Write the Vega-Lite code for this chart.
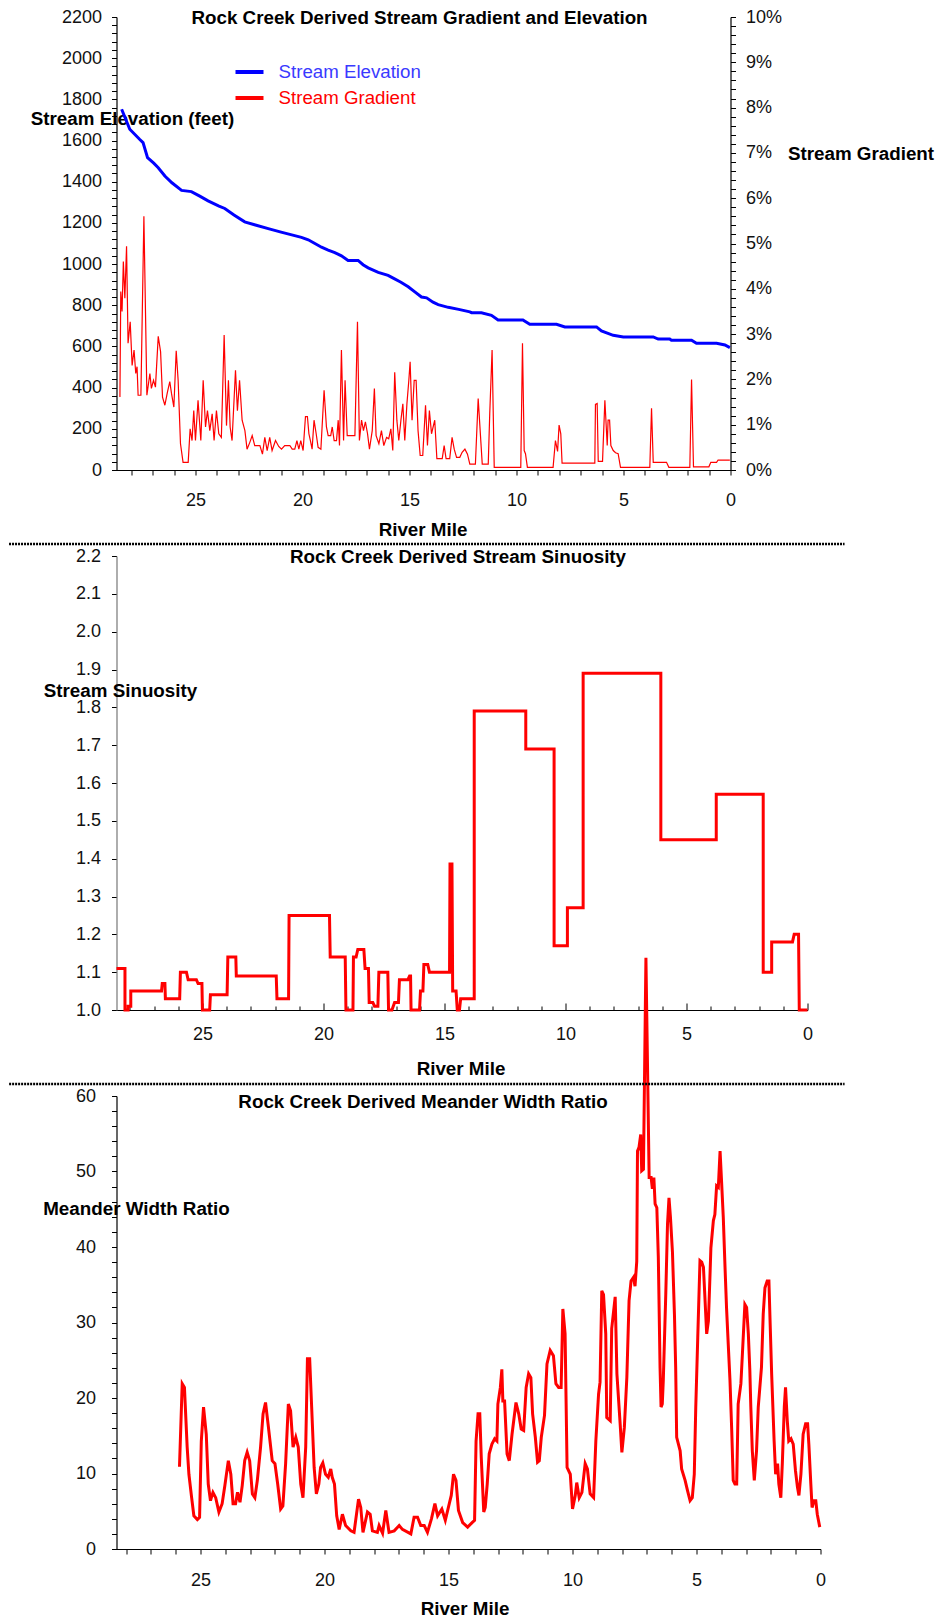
{
  "$schema": "https://vega.github.io/schema/vega-lite/v6.json",
  "padding": {"left": 7.5, "top": 8, "right": 5, "bottom": 3},
  "background": "white",
  "datasets": {
    "elev": [
      {"mile":28.45,"elev":1752},{"mile":28.07,"elev":1655},{"mile":27.6,"elev":1605},{"mile":27.45,"elev":1590},{"mile":27.24,"elev":1517},{"mile":26.95,"elev":1490},{"mile":26.74,"elev":1468},{"mile":26.43,"elev":1428},{"mile":26.1,"elev":1395},{"mile":25.65,"elev":1358},{"mile":25.19,"elev":1352},{"mile":24.8,"elev":1330},{"mile":24.41,"elev":1307},{"mile":23.9,"elev":1282},{"mile":23.63,"elev":1270},{"mile":23.2,"elev":1238},{"mile":22.7,"elev":1205},{"mile":22.2,"elev":1190},{"mile":21.6,"elev":1172},{"mile":21.0,"elev":1155},{"mile":20.5,"elev":1142},{"mile":20.05,"elev":1130},{"mile":19.73,"elev":1118},{"mile":19.42,"elev":1100},{"mile":19.11,"elev":1082},{"mile":18.8,"elev":1068},{"mile":18.49,"elev":1056},{"mile":18.18,"elev":1040},{"mile":17.87,"elev":1018},{"mile":17.4,"elev":1018},{"mile":17.17,"elev":997},{"mile":16.93,"elev":982},{"mile":16.46,"elev":960},{"mile":16.0,"elev":945},{"mile":15.76,"elev":932},{"mile":15.4,"elev":912},{"mile":15.06,"elev":890},{"mile":14.75,"elev":865},{"mile":14.44,"elev":840},{"mile":14.2,"elev":836},{"mile":13.9,"elev":815},{"mile":13.66,"elev":803},{"mile":13.19,"elev":790},{"mile":12.7,"elev":780},{"mile":12.18,"elev":768},{"mile":12.1,"elev":764},{"mile":11.64,"elev":764},{"mile":11.17,"elev":751},{"mile":10.86,"elev":729},{"mile":9.7,"elev":729},{"mile":9.38,"elev":708},{"mile":8.13,"elev":708},{"mile":7.74,"elev":695},{"mile":6.26,"elev":695},{"mile":6.03,"elev":675},{"mile":5.48,"elev":654},{"mile":5.01,"elev":646},{"mile":3.61,"elev":646},{"mile":3.38,"elev":636},{"mile":2.84,"elev":636},{"mile":2.76,"elev":630},{"mile":1.82,"elev":630},{"mile":1.59,"elev":615},{"mile":0.65,"elev":615},{"mile":0.26,"elev":607},{"mile":0.03,"elev":594}
    ],
    "grad": [
      {"mile":28.53,"pct":1.61},{"mile":28.49,"pct":3.94},{"mile":28.43,"pct":3.5},{"mile":28.37,"pct":4.6},{"mile":28.3,"pct":3.79},{"mile":28.22,"pct":4.94},{"mile":28.15,"pct":2.8},{"mile":28.05,"pct":3.27},{"mile":27.96,"pct":2.31},{"mile":27.87,"pct":2.65},{"mile":27.79,"pct":2.13},{"mile":27.73,"pct":2.28},{"mile":27.68,"pct":1.65},{"mile":27.55,"pct":1.65},{"mile":27.41,"pct":5.6},{"mile":27.27,"pct":1.65},{"mile":27.13,"pct":2.13},{"mile":27.06,"pct":1.8},{"mile":26.96,"pct":1.98},{"mile":26.87,"pct":1.83},{"mile":26.74,"pct":2.95},{"mile":26.63,"pct":2.61},{"mile":26.54,"pct":1.61},{"mile":26.43,"pct":1.43},{"mile":26.31,"pct":1.72},{"mile":26.2,"pct":1.95},{"mile":26.12,"pct":1.69},{"mile":26.01,"pct":1.39},{"mile":25.9,"pct":2.63},{"mile":25.81,"pct":1.98},{"mile":25.7,"pct":0.58},{"mile":25.58,"pct":0.17},{"mile":25.34,"pct":0.17},{"mile":25.25,"pct":0.91},{"mile":25.16,"pct":0.65},{"mile":25.08,"pct":1.31},{"mile":25.0,"pct":0.65},{"mile":24.88,"pct":1.54},{"mile":24.75,"pct":0.65},{"mile":24.64,"pct":1.98},{"mile":24.53,"pct":0.95},{"mile":24.44,"pct":1.31},{"mile":24.33,"pct":0.87},{"mile":24.22,"pct":1.24},{"mile":24.13,"pct":0.65},{"mile":24.02,"pct":1.31},{"mile":23.91,"pct":0.8},{"mile":23.79,"pct":0.72},{"mile":23.66,"pct":2.98},{"mile":23.55,"pct":0.98},{"mile":23.46,"pct":1.98},{"mile":23.38,"pct":0.95},{"mile":23.29,"pct":0.65},{"mile":23.13,"pct":2.2},{"mile":23.04,"pct":1.31},{"mile":22.94,"pct":1.98},{"mile":22.82,"pct":1.1},{"mile":22.69,"pct":0.87},{"mile":22.59,"pct":0.46},{"mile":22.46,"pct":0.61},{"mile":22.35,"pct":0.76},{"mile":22.23,"pct":0.54},{"mile":21.99,"pct":0.54},{"mile":21.87,"pct":0.35},{"mile":21.76,"pct":0.72},{"mile":21.65,"pct":0.43},{"mile":21.53,"pct":0.72},{"mile":21.42,"pct":0.43},{"mile":21.26,"pct":0.65},{"mile":21.11,"pct":0.52},{"mile":20.98,"pct":0.46},{"mile":20.83,"pct":0.54},{"mile":20.59,"pct":0.54},{"mile":20.48,"pct":0.46},{"mile":20.36,"pct":0.46},{"mile":20.26,"pct":0.65},{"mile":20.17,"pct":0.46},{"mile":20.08,"pct":0.65},{"mile":19.97,"pct":0.43},{"mile":19.86,"pct":1.18},{"mile":19.77,"pct":1.18},{"mile":19.7,"pct":0.8},{"mile":19.63,"pct":0.65},{"mile":19.55,"pct":0.46},{"mile":19.46,"pct":1.1},{"mile":19.36,"pct":0.8},{"mile":19.27,"pct":0.5},{"mile":19.14,"pct":0.46},{"mile":18.99,"pct":1.76},{"mile":18.88,"pct":0.95},{"mile":18.8,"pct":0.76},{"mile":18.68,"pct":0.76},{"mile":18.61,"pct":0.95},{"mile":18.52,"pct":0.65},{"mile":18.41,"pct":0.65},{"mile":18.33,"pct":1.1},{"mile":18.27,"pct":0.54},{"mile":18.18,"pct":2.65},{"mile":18.08,"pct":0.65},{"mile":18.01,"pct":1.98},{"mile":17.91,"pct":0.76},{"mile":17.55,"pct":0.76},{"mile":17.43,"pct":3.27},{"mile":17.34,"pct":0.65},{"mile":17.24,"pct":1.1},{"mile":17.15,"pct":0.87},{"mile":17.06,"pct":1.06},{"mile":16.96,"pct":0.8},{"mile":16.87,"pct":0.46},{"mile":16.74,"pct":0.87},{"mile":16.64,"pct":1.8},{"mile":16.56,"pct":0.76},{"mile":16.43,"pct":0.58},{"mile":16.31,"pct":0.87},{"mile":16.2,"pct":0.54},{"mile":16.07,"pct":0.72},{"mile":15.97,"pct":0.69},{"mile":15.87,"pct":0.91},{"mile":15.78,"pct":0.43},{"mile":15.69,"pct":2.16},{"mile":15.59,"pct":1.1},{"mile":15.5,"pct":0.65},{"mile":15.4,"pct":1.1},{"mile":15.31,"pct":1.46},{"mile":15.22,"pct":0.65},{"mile":15.12,"pct":1.46},{"mile":15.03,"pct":1.98},{"mile":14.97,"pct":2.39},{"mile":14.88,"pct":1.1},{"mile":14.78,"pct":1.98},{"mile":14.69,"pct":1.98},{"mile":14.6,"pct":0.87},{"mile":14.5,"pct":0.32},{"mile":14.38,"pct":0.32},{"mile":14.25,"pct":1.43},{"mile":14.16,"pct":0.54},{"mile":14.07,"pct":1.31},{"mile":13.97,"pct":0.8},{"mile":13.82,"pct":1.1},{"mile":13.72,"pct":0.25},{"mile":13.47,"pct":0.25},{"mile":13.38,"pct":0.54},{"mile":13.29,"pct":0.25},{"mile":13.12,"pct":0.25},{"mile":13.01,"pct":0.72},{"mile":12.91,"pct":0.46},{"mile":12.8,"pct":0.28},{"mile":12.65,"pct":0.28},{"mile":12.54,"pct":0.39},{"mile":12.41,"pct":0.46},{"mile":12.29,"pct":0.35},{"mile":12.18,"pct":0.13},{"mile":11.92,"pct":0.13},{"mile":11.79,"pct":1.58},{"mile":11.6,"pct":0.13},{"mile":11.32,"pct":0.13},{"mile":11.25,"pct":1.24},{"mile":11.14,"pct":2.65},{"mile":11.04,"pct":0.06},{"mile":9.8,"pct":0.06},{"mile":9.72,"pct":2.8},{"mile":9.64,"pct":0.43},{"mile":9.58,"pct":0.36},{"mile":9.49,"pct":0.06},{"mile":8.29,"pct":0.06},{"mile":8.18,"pct":0.65},{"mile":8.08,"pct":0.41},{"mile":8.01,"pct":0.99},{"mile":7.93,"pct":0.8},{"mile":7.87,"pct":0.15},{"mile":6.34,"pct":0.15},{"mile":6.31,"pct":1.45},{"mile":6.23,"pct":1.47},{"mile":6.18,"pct":0.19},{"mile":5.98,"pct":0.19},{"mile":5.87,"pct":1.54},{"mile":5.76,"pct":0.54},{"mile":5.72,"pct":1.1},{"mile":5.65,"pct":1.1},{"mile":5.59,"pct":0.54},{"mile":5.48,"pct":0.43},{"mile":5.37,"pct":0.38},{"mile":5.25,"pct":0.36},{"mile":5.14,"pct":0.06},{"mile":3.77,"pct":0.06},{"mile":3.69,"pct":1.36},{"mile":3.61,"pct":0.17},{"mile":2.99,"pct":0.17},{"mile":2.88,"pct":0.06},{"mile":1.9,"pct":0.06},{"mile":1.82,"pct":2.0},{"mile":1.73,"pct":0.07},{"mile":1.01,"pct":0.07},{"mile":0.92,"pct":0.17},{"mile":0.65,"pct":0.17},{"mile":0.58,"pct":0.22},{"mile":0.03,"pct":0.22}
    ],
    "sin": [
      {"i":0,"mile":28.55,"sin":1.11},{"i":1,"mile":28.2,"sin":1.11},{"i":2,"mile":28.2,"sin":1.0},{"i":3,"mile":28.07,"sin":1.0},{"i":4,"mile":28.07,"sin":1.01},{"i":5,"mile":27.96,"sin":1.01},{"i":6,"mile":27.96,"sin":1.05},{"i":7,"mile":26.69,"sin":1.05},{"i":8,"mile":26.66,"sin":1.07},{"i":9,"mile":26.55,"sin":1.07},{"i":10,"mile":26.53,"sin":1.03},{"i":11,"mile":25.94,"sin":1.03},{"i":12,"mile":25.91,"sin":1.1},{"i":13,"mile":25.66,"sin":1.1},{"i":14,"mile":25.59,"sin":1.08},{"i":15,"mile":25.25,"sin":1.08},{"i":16,"mile":25.18,"sin":1.07},{"i":17,"mile":25.02,"sin":1.07},{"i":18,"mile":25.0,"sin":1.0},{"i":19,"mile":24.7,"sin":1.0},{"i":20,"mile":24.67,"sin":1.04},{"i":21,"mile":23.98,"sin":1.04},{"i":22,"mile":23.95,"sin":1.14},{"i":23,"mile":23.62,"sin":1.14},{"i":24,"mile":23.6,"sin":1.09},{"i":25,"mile":21.95,"sin":1.09},{"i":26,"mile":21.92,"sin":1.03},{"i":27,"mile":21.44,"sin":1.03},{"i":28,"mile":21.42,"sin":1.25},{"i":29,"mile":19.75,"sin":1.25},{"i":30,"mile":19.72,"sin":1.14},{"i":31,"mile":19.1,"sin":1.14},{"i":32,"mile":19.07,"sin":1.0},{"i":33,"mile":18.78,"sin":1.0},{"i":34,"mile":18.76,"sin":1.14},{"i":35,"mile":18.65,"sin":1.14},{"i":36,"mile":18.58,"sin":1.16},{"i":37,"mile":18.33,"sin":1.16},{"i":38,"mile":18.28,"sin":1.11},{"i":39,"mile":18.14,"sin":1.11},{"i":40,"mile":18.11,"sin":1.02},{"i":41,"mile":17.96,"sin":1.02},{"i":42,"mile":17.89,"sin":1.01},{"i":43,"mile":17.75,"sin":1.01},{"i":44,"mile":17.71,"sin":1.1},{"i":45,"mile":17.34,"sin":1.1},{"i":46,"mile":17.31,"sin":1.0},{"i":47,"mile":17.17,"sin":1.0},{"i":48,"mile":17.06,"sin":1.02},{"i":49,"mile":16.9,"sin":1.02},{"i":50,"mile":16.86,"sin":1.08},{"i":51,"mile":16.51,"sin":1.08},{"i":52,"mile":16.44,"sin":1.09},{"i":53,"mile":16.4,"sin":1.09},{"i":54,"mile":16.38,"sin":1.0},{"i":55,"mile":16.03,"sin":1.0},{"i":56,"mile":15.99,"sin":1.05},{"i":57,"mile":15.89,"sin":1.05},{"i":58,"mile":15.85,"sin":1.12},{"i":59,"mile":15.69,"sin":1.12},{"i":60,"mile":15.62,"sin":1.1},{"i":61,"mile":14.79,"sin":1.1},{"i":62,"mile":14.77,"sin":1.39},{"i":63,"mile":14.75,"sin":1.1},{"i":64,"mile":14.73,"sin":1.39},{"i":65,"mile":14.71,"sin":1.1},{"i":66,"mile":14.69,"sin":1.39},{"i":67,"mile":14.66,"sin":1.05},{"i":68,"mile":14.52,"sin":1.05},{"i":69,"mile":14.47,"sin":1.0},{"i":70,"mile":14.38,"sin":1.0},{"i":71,"mile":14.33,"sin":1.03},{"i":72,"mile":13.77,"sin":1.03},{"i":73,"mile":13.77,"sin":1.79},{"i":74,"mile":11.64,"sin":1.79},{"i":75,"mile":11.64,"sin":1.69},{"i":76,"mile":10.47,"sin":1.69},{"i":77,"mile":10.47,"sin":1.17},{"i":78,"mile":9.92,"sin":1.17},{"i":79,"mile":9.92,"sin":1.27},{"i":80,"mile":9.27,"sin":1.27},{"i":81,"mile":9.27,"sin":1.89},{"i":82,"mile":6.06,"sin":1.89},{"i":83,"mile":6.06,"sin":1.45},{"i":84,"mile":3.77,"sin":1.45},{"i":85,"mile":3.77,"sin":1.57},{"i":86,"mile":1.83,"sin":1.57},{"i":87,"mile":1.83,"sin":1.1},{"i":88,"mile":1.48,"sin":1.1},{"i":89,"mile":1.48,"sin":1.18},{"i":90,"mile":0.62,"sin":1.18},{"i":91,"mile":0.55,"sin":1.2},{"i":92,"mile":0.37,"sin":1.2},{"i":93,"mile":0.34,"sin":1.0},{"i":94,"mile":0.0,"sin":1.0}
    ],
    "mwr": [
      {"mile":25.85,"mwr":10.9},{"mile":25.74,"mwr":21.9},{"mile":25.65,"mwr":21.4},{"mile":25.54,"mwr":13.5},{"mile":25.47,"mwr":9.9},{"mile":25.36,"mwr":6.8},{"mile":25.27,"mwr":4.4},{"mile":25.13,"mwr":3.9},{"mile":25.04,"mwr":4.2},{"mile":24.97,"mwr":14.3},{"mile":24.88,"mwr":18.8},{"mile":24.77,"mwr":15.2},{"mile":24.69,"mwr":8.6},{"mile":24.6,"mwr":6.4},{"mile":24.5,"mwr":7.5},{"mile":24.39,"mwr":6.8},{"mile":24.26,"mwr":4.9},{"mile":24.13,"mwr":6.0},{"mile":24.02,"mwr":8.4},{"mile":23.88,"mwr":11.7},{"mile":23.78,"mwr":9.9},{"mile":23.69,"mwr":6.0},{"mile":23.59,"mwr":6.0},{"mile":23.51,"mwr":7.5},{"mile":23.41,"mwr":6.2},{"mile":23.32,"mwr":8.4},{"mile":23.22,"mwr":11.7},{"mile":23.12,"mwr":12.8},{"mile":23.02,"mwr":11.7},{"mile":22.91,"mwr":7.3},{"mile":22.81,"mwr":6.8},{"mile":22.71,"mwr":9.1},{"mile":22.58,"mwr":13.5},{"mile":22.48,"mwr":17.9},{"mile":22.38,"mwr":19.4},{"mile":22.28,"mwr":16.6},{"mile":22.2,"mwr":14.3},{"mile":22.11,"mwr":11.7},{"mile":22.0,"mwr":11.3},{"mile":21.89,"mwr":8.6},{"mile":21.77,"mwr":5.3},{"mile":21.68,"mwr":5.7},{"mile":21.57,"mwr":11.3},{"mile":21.46,"mwr":19.2},{"mile":21.37,"mwr":18.3},{"mile":21.27,"mwr":13.5},{"mile":21.16,"mwr":14.8},{"mile":21.06,"mwr":13.5},{"mile":20.96,"mwr":8.6},{"mile":20.87,"mwr":6.8},{"mile":20.76,"mwr":13.5},{"mile":20.69,"mwr":25.2},{"mile":20.6,"mwr":25.2},{"mile":20.52,"mwr":18.8},{"mile":20.42,"mwr":10.8},{"mile":20.33,"mwr":7.3},{"mile":20.23,"mwr":8.6},{"mile":20.16,"mwr":10.8},{"mile":20.07,"mwr":11.4},{"mile":19.96,"mwr":9.9},{"mile":19.85,"mwr":9.5},{"mile":19.75,"mwr":10.6},{"mile":19.69,"mwr":9.5},{"mile":19.6,"mwr":8.6},{"mile":19.51,"mwr":4.4},{"mile":19.41,"mwr":2.6},{"mile":19.28,"mwr":4.6},{"mile":19.15,"mwr":3.1},{"mile":18.94,"mwr":2.4},{"mile":18.81,"mwr":2.2},{"mile":18.63,"mwr":6.6},{"mile":18.54,"mwr":5.5},{"mile":18.45,"mwr":2.2},{"mile":18.27,"mwr":4.9},{"mile":18.16,"mwr":4.6},{"mile":18.07,"mwr":2.4},{"mile":17.87,"mwr":2.2},{"mile":17.8,"mwr":3.1},{"mile":17.66,"mwr":2.1},{"mile":17.53,"mwr":5.1},{"mile":17.4,"mwr":2.2},{"mile":17.19,"mwr":2.4},{"mile":16.99,"mwr":3.1},{"mile":16.86,"mwr":2.6},{"mile":16.52,"mwr":2.0},{"mile":16.39,"mwr":4.2},{"mile":16.25,"mwr":4.2},{"mile":16.12,"mwr":3.1},{"mile":15.98,"mwr":3.1},{"mile":15.85,"mwr":2.2},{"mile":15.69,"mwr":4.0},{"mile":15.55,"mwr":6.0},{"mile":15.44,"mwr":4.4},{"mile":15.27,"mwr":5.3},{"mile":15.13,"mwr":3.8},{"mile":14.97,"mwr":6.0},{"mile":14.89,"mwr":7.1},{"mile":14.8,"mwr":9.9},{"mile":14.7,"mwr":9.1},{"mile":14.6,"mwr":5.1},{"mile":14.43,"mwr":3.5},{"mile":14.23,"mwr":2.9},{"mile":14.05,"mwr":3.5},{"mile":13.95,"mwr":3.8},{"mile":13.89,"mwr":14.3},{"mile":13.81,"mwr":17.9},{"mile":13.74,"mwr":17.9},{"mile":13.68,"mwr":12.1},{"mile":13.58,"mwr":4.9},{"mile":13.52,"mwr":5.5},{"mile":13.44,"mwr":8.6},{"mile":13.36,"mwr":12.6},{"mile":13.25,"mwr":13.9},{"mile":13.14,"mwr":14.6},{"mile":13.05,"mwr":14.3},{"mile":13.01,"mwr":19.2},{"mile":12.91,"mwr":21.4},{"mile":12.85,"mwr":23.8},{"mile":12.81,"mwr":19.6},{"mile":12.74,"mwr":19.6},{"mile":12.64,"mwr":12.6},{"mile":12.55,"mwr":11.7},{"mile":12.44,"mwr":15.2},{"mile":12.28,"mwr":19.4},{"mile":12.17,"mwr":17.9},{"mile":12.07,"mwr":15.9},{"mile":11.97,"mwr":15.7},{"mile":11.87,"mwr":21.4},{"mile":11.77,"mwr":23.2},{"mile":11.68,"mwr":22.7},{"mile":11.61,"mwr":17.9},{"mile":11.5,"mwr":14.8},{"mile":11.41,"mwr":11.5},{"mile":11.34,"mwr":11.7},{"mile":11.26,"mwr":14.8},{"mile":11.13,"mwr":17.7},{"mile":11.03,"mwr":24.5},{"mile":10.9,"mwr":26.3},{"mile":10.77,"mwr":25.6},{"mile":10.67,"mwr":21.9},{"mile":10.56,"mwr":21.4},{"mile":10.46,"mwr":21.4},{"mile":10.39,"mwr":31.8},{"mile":10.3,"mwr":28.5},{"mile":10.22,"mwr":10.8},{"mile":10.09,"mwr":9.9},{"mile":10.0,"mwr":5.3},{"mile":9.89,"mwr":7.1},{"mile":9.83,"mwr":8.8},{"mile":9.73,"mwr":6.8},{"mile":9.62,"mwr":7.5},{"mile":9.49,"mwr":11.3},{"mile":9.4,"mwr":10.6},{"mile":9.29,"mwr":7.3},{"mile":9.15,"mwr":6.8},{"mile":9.06,"mwr":14.3},{"mile":8.95,"mwr":20.5},{"mile":8.89,"mwr":22.1},{"mile":8.82,"mwr":34.2},{"mile":8.75,"mwr":33.7},{"mile":8.66,"mwr":28.5},{"mile":8.62,"mwr":17.4},{"mile":8.48,"mwr":17.0},{"mile":8.42,"mwr":29.2},{"mile":8.28,"mwr":33.4},{"mile":8.21,"mwr":23.2},{"mile":8.08,"mwr":16.6},{"mile":8.01,"mwr":12.8},{"mile":7.91,"mwr":16.1},{"mile":7.81,"mwr":22.7},{"mile":7.72,"mwr":32.9},{"mile":7.64,"mwr":35.5},{"mile":7.54,"mwr":36.0},{"mile":7.48,"mwr":34.8},{"mile":7.41,"mwr":38.1},{"mile":7.38,"mwr":52.7},{"mile":7.32,"mwr":53.2},{"mile":7.25,"mwr":54.9},{"mile":7.21,"mwr":50.1},{"mile":7.14,"mwr":50.3},{"mile":7.04,"mwr":78.3},{"mile":6.91,"mwr":49.2},{"mile":6.83,"mwr":49.2},{"mile":6.78,"mwr":47.7},{"mile":6.72,"mwr":49.2},{"mile":6.67,"mwr":45.7},{"mile":6.6,"mwr":45.2},{"mile":6.54,"mwr":38.6},{"mile":6.47,"mwr":24.0},{"mile":6.43,"mwr":18.8},{"mile":6.38,"mwr":19.2},{"mile":6.34,"mwr":22.3},{"mile":6.24,"mwr":33.7},{"mile":6.17,"mwr":43.0},{"mile":6.11,"mwr":46.5},{"mile":6.05,"mwr":43.9},{"mile":5.97,"mwr":39.3},{"mile":5.89,"mwr":31.1},{"mile":5.84,"mwr":24.0},{"mile":5.8,"mwr":14.8},{"mile":5.66,"mwr":13.0},{"mile":5.6,"mwr":10.6},{"mile":5.46,"mwr":9.1},{"mile":5.36,"mwr":7.7},{"mile":5.26,"mwr":6.4},{"mile":5.17,"mwr":6.8},{"mile":5.09,"mwr":9.9},{"mile":5.03,"mwr":18.8},{"mile":4.95,"mwr":28.0},{"mile":4.86,"mwr":38.2},{"mile":4.79,"mwr":38.0},{"mile":4.72,"mwr":37.3},{"mile":4.59,"mwr":28.5},{"mile":4.52,"mwr":30.2},{"mile":4.46,"mwr":35.9},{"mile":4.42,"mwr":39.9},{"mile":4.32,"mwr":43.5},{"mile":4.26,"mwr":44.3},{"mile":4.19,"mwr":48.1},{"mile":4.12,"mwr":47.9},{"mile":4.05,"mwr":52.7},{"mile":3.99,"mwr":48.7},{"mile":3.92,"mwr":43.9},{"mile":3.85,"mwr":37.3},{"mile":3.79,"mwr":32.0},{"mile":3.72,"mwr":27.1},{"mile":3.65,"mwr":22.3},{"mile":3.58,"mwr":15.7},{"mile":3.52,"mwr":9.1},{"mile":3.45,"mwr":8.6},{"mile":3.38,"mwr":8.6},{"mile":3.32,"mwr":19.2},{"mile":3.21,"mwr":21.9},{"mile":3.15,"mwr":25.8},{"mile":3.05,"mwr":32.4},{"mile":2.98,"mwr":32.0},{"mile":2.91,"mwr":28.5},{"mile":2.85,"mwr":23.7},{"mile":2.81,"mwr":18.8},{"mile":2.75,"mwr":13.0},{"mile":2.67,"mwr":9.1},{"mile":2.58,"mwr":13.0},{"mile":2.51,"mwr":18.8},{"mile":2.38,"mwr":24.1},{"mile":2.31,"mwr":31.1},{"mile":2.24,"mwr":34.6},{"mile":2.15,"mwr":35.5},{"mile":2.08,"mwr":35.5},{"mile":2.03,"mwr":29.8},{"mile":1.97,"mwr":23.2},{"mile":1.87,"mwr":14.3},{"mile":1.81,"mwr":9.9},{"mile":1.73,"mwr":11.3},{"mile":1.68,"mwr":8.6},{"mile":1.6,"mwr":6.8},{"mile":1.54,"mwr":11.3},{"mile":1.46,"mwr":18.8},{"mile":1.41,"mwr":21.4},{"mile":1.34,"mwr":17.0},{"mile":1.28,"mwr":14.3},{"mile":1.19,"mwr":14.6},{"mile":1.1,"mwr":13.9},{"mile":1.01,"mwr":10.4},{"mile":0.93,"mwr":8.2},{"mile":0.87,"mwr":7.1},{"mile":0.79,"mwr":9.9},{"mile":0.7,"mwr":15.2},{"mile":0.6,"mwr":16.6},{"mile":0.52,"mwr":16.6},{"mile":0.47,"mwr":13.9},{"mile":0.39,"mwr":8.6},{"mile":0.34,"mwr":5.5},{"mile":0.26,"mwr":6.4},{"mile":0.19,"mwr":6.4},{"mile":0.13,"mwr":4.6},{"mile":0.03,"mwr":2.9}
    ],
    "sep2": [{"x1": 32.99, "x2": -1.53, "y": 2.232}],
    "sep3": [{"x1": 32.72, "x2": -0.97, "y": 61.59}]
  },
  "vconcat": [
    {
      "width": 614,
      "height": 453,
      "layer": [
        {
          "data": {"name": "elev"},
          "mark": {"type": "line", "strokeWidth": 3, "clip": false},
          "encoding": {
            "x": {"field": "mile", "type": "quantitative",
              "scale": {"domain": [0, 28.69], "reverse": true, "nice": false, "zero": false},
              "axis": {"orient": "bottom", "values": [0,1,2,3,4,5,6,7,8,9,10,11,12,13,14,15,16,17,18,19,20,21,22,23,24,25,26,27,28], "tickCount": 200,
                "format": "d", "labelExpr": "datum.value % 5 == 0 ? datum.label : ''", "labelOverlap": false,
                "labelPadding": 16, "title": "River Mile", "titleX": 306, "titleY": 59.5}},
            "y": {"field": "elev", "type": "quantitative",
              "scale": {"domain": [0, 2200], "nice": false, "zero": false},
              "axis": {"orient": "left", "values": [0,40,80,120,160,200,240,280,320,360,400,440,480,520,560,600,640,680,720,760,800,840,880,920,960,1000,1040,1080,1120,1160,1200,1240,1280,1320,1360,1400,1440,1480,1520,1560,1600,1640,1680,1720,1760,1800,1840,1880,1920,1960,2000,2040,2080,2120,2160,2200], "tickCount": 200,
                "format": "d", "labelExpr": "datum.value % 200 == 0 ? datum.label : ''", "labelOverlap": false,
                "labelPadding": 10, "title": "Stream Elevation (feet)", "titleX": 15.5, "titleY": 101}},
            "color": {"datum": "Stream Elevation",
              "scale": {"domain": ["Stream Elevation", "Stream Gradient"], "range": ["#0000ff", "#ff0000"]},
              "legend": {"orient": "none", "legendX": 117, "legendY": 39, "title": null, "padding": 0,
                "symbolType": "stroke", "symbolSize": 784, "symbolStrokeWidth": 4,
                "labelFont": "Liberation Sans", "labelFontSize": 18.7, "labelOffset": 13, "rowPadding": 0,
                "labelColor": {"expr": "datum.label == 'Stream Elevation' ? '#3a3aff' : '#ff0000'"}}}
          }
        },
        {
          "data": {"name": "grad"},
          "mark": {"type": "line", "strokeWidth": 1.2, "clip": false},
          "encoding": {
            "x": {"field": "mile", "type": "quantitative",
              "scale": {"domain": [0, 28.69], "reverse": true, "nice": false, "zero": false},
              "axis": {"orient": "top", "labels": false, "ticks": false, "domain": false,
                "title": "Rock Creek Derived Stream Gradient and Elevation", "titleX": 302.5, "titleY": 0}},
            "y": {"field": "pct", "type": "quantitative",
              "scale": {"domain": [0, 10], "nice": false, "zero": false},
              "axis": {"orient": "right", "values": [0,0.2,0.4,0.6,0.8,1,1.2,1.4,1.6,1.8,2,2.2,2.4,2.6,2.8,3,3.2,3.4,3.6,3.8,4,4.2,4.4,4.6,4.8,5,5.2,5.4,5.6,5.8,6,6.2,6.4,6.6,6.8,7,7.2,7.4,7.6,7.8,8,8.2,8.4,8.6,8.8,9,9.2,9.4,9.6,9.8,10], "tickCount": 200,
                "labelExpr": "abs(datum.value - round(datum.value)) < 0.01 ? round(datum.value) + '%' : ''", "labelOverlap": false,
                "labelPadding": 10, "title": "Stream Gradient", "titleX": 130, "titleY": 136}},
            "color": {"datum": "Stream Gradient"}
          }
        }
      ],
      "resolve": {"scale": {"y": "independent"}, "axis": {"x": "independent", "y": "independent"}}
    },
    {
      "width": 691,
      "height": 454,
      "layer": [
        {
          "data": {"name": "sin"},
          "mark": {"type": "line", "strokeWidth": 3, "color": "#ff0000", "clip": false},
          "encoding": {
            "x": {"field": "mile", "type": "quantitative",
              "scale": {"domain": [0, 28.55], "reverse": true, "nice": false, "zero": false},
              "axis": {"orient": "bottom", "values": [0,1,2,3,4,5,6,7,8,9,10,11,12,13,14,15,16,17,18,19,20,21,22,23,24,25,26,27,28], "tickCount": 200,
                "format": "d", "labelExpr": "datum.value % 5 == 0 ? datum.label : ''", "labelOverlap": false,
                "tickSize": {"condition": {"test": "datum.value % 5 == 0", "value": -7}, "value": -4},
                "labelPadding": 22, "title": "River Mile", "titleX": 344, "titleY": 58}},
            "y": {"field": "sin", "type": "quantitative",
              "scale": {"domain": [1.0, 2.2], "nice": false, "zero": false},
              "axis": {"orient": "left", "values": [1.0,1.1,1.2,1.3,1.4,1.5,1.6,1.7,1.8,1.9,2.0,2.1,2.2], "tickCount": 200,
                "format": ".1f", "labelPadding": 11, "domainColor": "#777", "labelOverlap": false,
                "title": "Stream Sinuosity", "titleX": 3.5, "titleY": 134}},
            "order": {"field": "i", "type": "quantitative"}
          }
        },
        {
          "data": {"name": "sep2"},
          "mark": {"type": "rule", "strokeDash": [2, 1], "strokeWidth": 2.5, "color": "#000"},
          "encoding": {
            "x": {"field": "x1", "type": "quantitative",
              "scale": {"domain": [0, 28.55], "reverse": true, "nice": false, "zero": false},
              "axis": {"orient": "top", "labels": false, "ticks": false, "domain": false,
                "title": "Rock Creek Derived Stream Sinuosity", "titleX": 341, "titleY": 0}},
            "x2": {"field": "x2"},
            "y": {"field": "y", "type": "quantitative", "scale": {"domain": [1.0, 2.2], "nice": false, "zero": false},
              "axis": {"values": [1.0,1.1,1.2,1.3,1.4,1.5,1.6,1.7,1.8,1.9,2.0,2.1,2.2], "tickCount": 200}}
          }
        }
      ],
      "resolve": {"axis": {"x": "independent"}}
    },
    {
      "width": 704,
      "height": 453,
      "layer": [
        {
          "data": {"name": "mwr"},
          "mark": {"type": "line", "strokeWidth": 3, "color": "#ff0000", "clip": false},
          "encoding": {
            "x": {"field": "mile", "type": "quantitative",
              "scale": {"domain": [0, 28.39], "reverse": true, "nice": false, "zero": false},
              "axis": {"orient": "bottom", "values": [0,1,2,3,4,5,6,7,8,9,10,11,12,13,14,15,16,17,18,19,20,21,22,23,24,25,26,27,28], "tickCount": 200,
                "format": "d", "labelExpr": "datum.value % 5 == 0 ? datum.label : ''", "labelOverlap": false,
                "labelPadding": 17, "title": "River Mile", "titleX": 348, "titleY": 59}},
            "y": {"field": "mwr", "type": "quantitative",
              "scale": {"domain": [0, 60], "nice": false, "zero": false},
              "axis": {"orient": "left", "values": [0,2,4,6,8,10,12,14,16,18,20,22,24,26,28,30,32,34,36,38,40,42,44,46,48,50,52,54,56,58,60], "tickCount": 200,
                "format": "d", "labelExpr": "datum.value % 10 == 0 ? datum.label : ''", "labelOverlap": false,
                "labelPadding": 16, "title": "Meander Width Ratio", "titleX": 19.5, "titleY": 112}}
          }
        },
        {
          "data": {"name": "sep3"},
          "mark": {"type": "rule", "strokeDash": [2, 1], "strokeWidth": 2.5, "color": "#000"},
          "encoding": {
            "x": {"field": "x1", "type": "quantitative",
              "scale": {"domain": [0, 28.39], "reverse": true, "nice": false, "zero": false},
              "axis": {"orient": "top", "labels": false, "ticks": false, "domain": false,
                "title": "Rock Creek Derived Meander Width Ratio", "titleX": 306, "titleY": 5.7}},
            "x2": {"field": "x2"},
            "y": {"field": "y", "type": "quantitative", "scale": {"domain": [0, 60], "nice": false, "zero": false},
              "axis": {"values": [0,2,4,6,8,10,12,14,16,18,20,22,24,26,28,30,32,34,36,38,40,42,44,46,48,50,52,54,56,58,60], "tickCount": 200}}
          }
        }
      ],
      "resolve": {"axis": {"x": "independent"}}
    }
  ],
  "spacing": 86,
  "bounds": "flush",
  "align": "none",
  "config": {
    "view": {"stroke": null},
    "font": "Liberation Sans",
    "axis": {
      "grid": false,
      "labelFont": "Liberation Sans", "labelFontSize": 18, "labelColor": "#111",
      "labelOverlap": false, "labelBound": false, "labelFlush": false,
      "titleFont": "Liberation Sans", "titleFontSize": 18.8, "titleFontWeight": "bold", "titleColor": "#000",
      "titleAngle": 0, "titleAlign": "center", "titleBaseline": "middle",
      "domainColor": "#000", "domainWidth": 1.2, "tickColor": "#000", "tickSize": 5, "tickWidth": 1
    }
  }
}
